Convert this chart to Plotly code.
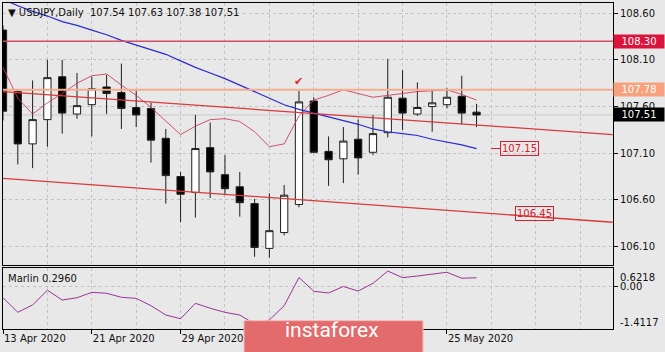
import plotly.graph_objects as go

# ---------------- data ----------------
dates = ["13 Apr", "14 Apr", "15 Apr", "16 Apr", "17 Apr", "20 Apr", "21 Apr", "22 Apr", "23 Apr",
         "24 Apr", "27 Apr", "28 Apr", "29 Apr", "30 Apr", "1 May", "4 May", "5 May", "6 May",
         "7 May", "8 May", "11 May", "12 May", "13 May", "14 May", "15 May", "18 May", "19 May",
         "20 May", "21 May", "22 May", "25 May", "26 May", "27 May"]
opens = [108.42, 107.76, 107.20, 107.46, 107.92, 107.52, 107.62, 107.81, 107.75, 107.59, 107.58,
         107.26, 106.85, 106.68, 107.16, 106.87, 106.74, 106.56, 106.08, 106.25, 106.55, 107.66,
         107.12, 107.04, 107.25, 107.11, 107.32, 107.69, 107.52, 107.60, 107.62, 107.71, 107.54]
highs = [108.47, 107.78, 107.88, 108.10, 108.10, 107.96, 107.92, 107.94, 108.06, 107.77, 107.64,
         107.36, 106.90, 107.51, 107.43, 107.08, 106.90, 106.61, 106.67, 106.76, 107.77, 107.70,
         107.28, 107.38, 107.46, 107.51, 108.11, 107.99, 107.86, 107.77, 107.80, 107.93, 107.63]
lows = [107.45, 106.98, 106.94, 107.17, 107.31, 107.47, 107.28, 107.52, 107.36, 107.38, 107.00,
        106.56, 106.36, 106.41, 106.62, 106.65, 106.42, 105.99, 105.98, 106.22, 106.52, 107.10,
        106.75, 106.78, 106.87, 107.08, 107.27, 107.35, 107.50, 107.33, 107.58, 107.41, 107.38]
closes = [107.55, 107.20, 107.46, 107.91, 107.53, 107.61, 107.79, 107.74, 107.58, 107.51, 107.24,
          106.86, 106.66, 107.15, 106.90, 106.72, 106.57, 106.09, 106.27, 106.65, 107.65, 107.11,
          107.03, 107.23, 107.05, 107.31, 107.70, 107.53, 107.59, 107.64, 107.70, 107.53, 107.51]
blue_ma = [108.75, 108.68, 108.62, 108.57, 108.51, 108.47, 108.42, 108.37, 108.31, 108.26, 108.21,
           108.16, 108.09, 108.02, 107.96, 107.90, 107.83, 107.76, 107.69, 107.62, 107.57, 107.53,
           107.49, 107.45, 107.41, 107.36, 107.33, 107.31, 107.29, 107.25, 107.22, 107.19, 107.15]
pink_ma = [108.02, 107.69, 107.52, 107.64, 107.74, 107.85, 107.93, 107.95, 107.83, 107.72, 107.59,
           107.44, 107.30, 107.39, 107.46, 107.47, 107.44, 107.33, 107.17, 107.20, 107.50, 107.67,
           107.72, 107.78, 107.74, 107.70, 107.72, 107.74, 107.76, 107.77, 107.78, 107.73, 107.67]
marlin = [-0.37, -0.855, -0.61, -0.12, -0.445, -0.37, -0.19, -0.22, -0.355, -0.39, -0.635,
          -0.945, -1.07, -0.555, -0.72, -0.855, -0.945, -1.245, -1.11, -0.635, 0.305, -0.155,
          -0.21, 0.005, -0.145, 0.11, 0.52, 0.30, 0.355, 0.41, 0.48, 0.28, 0.296]

trend_upper_x = [0, 41.2]
trend_upper_y = [107.76, 107.30]
trend_lower_x = [0, 41.2]
trend_lower_y = [106.83, 106.36]

level_red = 108.30
level_salmon = 107.78
target_labels = [107.15, 106.45]
target_label_x = [33.0, 35.9]

price_ticks = [106.10, 106.60, 107.10, 107.60, 108.10, 108.60]
date_tick_idx = [0, 6, 12, 30]
date_tick_text = ["13 Apr 2020", "21 Apr 2020", "29 Apr 2020", "25 May 2020"]
marlin_top, marlin_bottom = 0.6218, -1.4117
title_text = "USDJPY,Daily  107.54 107.63 107.38 107.51"
marlin_title = "Marlin 0.2960"

# ---------------- figure ----------------
idx = list(range(len(dates)))
FONT = "DejaVu Sans"
BG = "#E8E8E8"
GRID = "#C2C2C2"

fig = go.Figure()

fig.add_trace(go.Candlestick(
    x=idx, open=opens, high=highs, low=lows, close=closes,
    increasing=dict(line=dict(color="#1E1E1E", width=1), fillcolor="white"),
    decreasing=dict(line=dict(color="#1E1E1E", width=1), fillcolor="black"),
    whiskerwidth=0, xaxis="x2", yaxis="y2", showlegend=False, hoverinfo="skip"))

fig.add_trace(go.Scatter(x=idx, y=pink_ma, mode="lines", xaxis="x2", yaxis="y2",
                         line=dict(color="rgba(205,55,85,0.85)", width=1), showlegend=False))
fig.add_trace(go.Scatter(x=idx, y=blue_ma, mode="lines", xaxis="x2", yaxis="y2",
                         line=dict(color="#2B2BD0", width=1.2), showlegend=False))
for tx, ty in ((trend_upper_x, trend_upper_y), (trend_lower_x, trend_lower_y)):
    fig.add_trace(go.Scatter(x=tx, y=ty, mode="lines", xaxis="x2", yaxis="y2",
                             line=dict(color="#D93A3A", width=1.3), showlegend=False))

fig.add_trace(go.Scatter(x=idx, y=marlin, mode="lines", xaxis="x", yaxis="y",
                         line=dict(color="#993399", width=1), showlegend=False))

# level lines
fig.add_shape(type="line", xref="x2 domain", x0=0, x1=1, yref="y2", y0=closes[-1], y1=closes[-1],
              line=dict(color="#C8C8C8", width=1), layer="below")
fig.add_shape(type="line", xref="x2 domain", x0=0, x1=1, yref="y2", y0=level_red, y1=level_red,
              line=dict(color="rgb(205,80,100)", width=1.6), layer="above")
fig.add_shape(type="line", xref="x2 domain", x0=0, x1=1, yref="y2", y0=level_salmon, y1=level_salmon,
              line=dict(color="rgb(246,172,142)", width=2), layer="above")

annotations = []
# right axis value boxes
for val, bg in ((level_red, "#DC143C"), (level_salmon, "#F7A17E"), (closes[-1], "black")):
    annotations.append(dict(xref="paper", x=1, xanchor="left", yref="y2", y=val, yanchor="middle",
                            text=f"{val:.2f}", showarrow=False, bgcolor=bg, width=48, height=11,
                            borderpad=1, font=dict(family=FONT, size=10, color="white")))
# target labels
for i, (val, xv) in enumerate(zip(target_labels, target_label_x)):
    a = dict(xref="x2", x=xv, yref="y2", y=val, text=f"{val:.2f}",
             font=dict(family=FONT, size=10, color="#D4202E"),
             bordercolor="#D4202E", borderwidth=1, borderpad=1, bgcolor="rgba(0,0,0,0)")
    if i == 0:
        a.update(showarrow=True, arrowhead=0, arrowcolor="#D4202E", arrowwidth=1, ax=28, ay=0)
    else:
        a.update(showarrow=False)
    annotations.append(a)
# checkmark
annotations.append(dict(xref="x2", x=20, yref="y2", y=highs[20], yanchor="bottom", yshift=1,
                        text="✔", showarrow=False, font=dict(family=FONT, size=11, color="#E0262A")))
# title
annotations.append(dict(xref="paper", x=0, xanchor="left", xshift=3, yref="paper", y=1, yanchor="top",
                        yshift=-2, text="▼ " + title_text, showarrow=False,
                        font=dict(family=FONT, size=10, color="#111111")))
annotations.append(dict(xref="paper", x=0, xanchor="left", xshift=3, yref="y domain", y=1,
                        yanchor="top", yshift=-3, text=marlin_title, showarrow=False,
                        font=dict(family=FONT, size=10, color="#111111")))
# marlin axis edge labels
annotations.append(dict(xref="paper", x=1, xanchor="left", xshift=5, yref="y", y=marlin_top,
                        yanchor="top", yshift=-2, text=f"{marlin_top:.4f}", showarrow=False,
                        font=dict(family=FONT, size=10, color="#111111")))
annotations.append(dict(xref="paper", x=1, xanchor="left", xshift=5, yref="y", y=marlin_bottom,
                        yanchor="bottom", yshift=-1, text=f"{marlin_bottom:.4f}", showarrow=False,
                        font=dict(family=FONT, size=10, color="#111111")))
# logo
fig.add_shape(type="rect", xref="paper", yref="paper", x0=0.3951, x1=0.6885, y0=-0.08, y1=0.0255,
              fillcolor="#E36B6B", line=dict(color="#F2B9B9", width=1), layer="above")
annotations.append(dict(xref="paper", x=0.540, yref="paper", y=-0.024, yshift=-7, text="instaforex",
                        showarrow=False, font=dict(family="Roboto", size=21, color="white")))

fig.update_layout(
    width=665, height=352,
    margin=dict(l=3, r=52, t=3, b=23),
    paper_bgcolor=BG, plot_bgcolor=BG,
    showlegend=False,
    annotations=annotations,
    font=dict(family=FONT, size=10, color="#111111"),
    xaxis=dict(domain=[0, 1], anchor="y", range=[0, 41.22],
               tickmode="array", tickvals=date_tick_idx, ticktext=date_tick_text,
               ticklabelposition="outside right", ticks="outside", ticklen=4, tickcolor="black",
               showline=True, linecolor="black", linewidth=1, mirror=True,
               showgrid=True, gridcolor=GRID, griddash="3px,3px", gridwidth=1, zeroline=False,
               minor=dict(tickmode="linear", tick0=0, dtick=3, showgrid=True, gridcolor=GRID,
                          griddash="3px,3px", ticks=""),
               tickfont=dict(family=FONT, size=10, color="#111111")),
    xaxis2=dict(domain=[0, 1], anchor="y2", matches="x", range=[0, 41.22],
                tickmode="array", tickvals=date_tick_idx, showticklabels=False, ticks="",
                showline=True, linecolor="black", linewidth=1, mirror=True,
                showgrid=True, gridcolor=GRID, griddash="3px,3px", gridwidth=1, zeroline=False,
                minor=dict(tickmode="linear", tick0=0, dtick=3, showgrid=True, gridcolor=GRID,
                           griddash="3px,3px", ticks=""),
                rangeslider=dict(visible=False)),
    yaxis=dict(domain=[0, 0.1871], anchor="x", side="right", range=[marlin_bottom, marlin_top],
               tickmode="array", tickvals=[0], ticktext=["0.00"], ticks="outside", ticklen=4,
               tickcolor="black", showline=True, linecolor="black", linewidth=1, mirror=True,
               showgrid=True, gridcolor=GRID, griddash="3px,3px", zeroline=False,
               tickfont=dict(family=FONT, size=10, color="#111111")),
    yaxis2=dict(domain=[0.1963, 1], anchor="x2", side="right", range=[105.902, 108.710],
                tickmode="array", tickvals=price_ticks, ticktext=[f"{v:.2f}" for v in price_ticks],
                ticks="outside", ticklen=4, tickcolor="black",
                showline=True, linecolor="black", linewidth=1, mirror=True,
                showgrid=True, gridcolor=GRID, griddash="3px,3px", zeroline=False,
                tickfont=dict(family=FONT, size=10, color="#111111")),
)

fig.write_html("out.html")
